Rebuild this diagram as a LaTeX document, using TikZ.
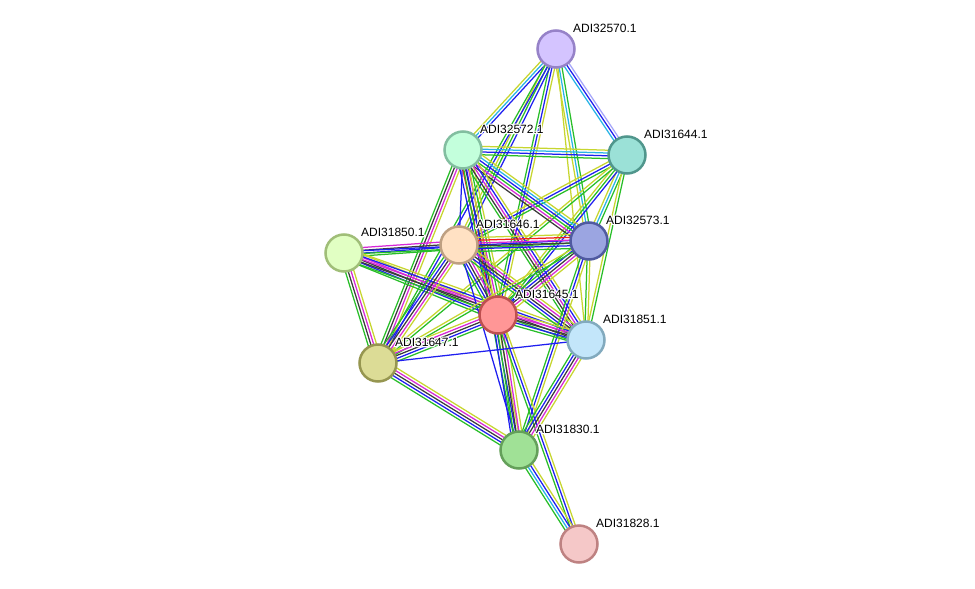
\documentclass[tikz,border=0pt]{standalone}
\usepackage{fontspec}
\setmainfont{Liberation Sans}
\usetikzlibrary{calc,backgrounds}
\definecolor{tm}{RGB}{199,214,47}
\definecolor{db}{RGB}{40,180,230}
\definecolor{ex}{RGB}{215,40,215}
\definecolor{nb}{RGB}{40,190,40}
\definecolor{co}{RGB}{30,30,240}
\definecolor{cx}{RGB}{60,60,60}
\definecolor{fu}{RGB}{240,30,30}
\definecolor{ho}{RGB}{165,165,250}
\newcommand\sedge[4]{%
  \foreach \c [count=\i] in {#4} {
    \pgfmathsetmacro\off{(\i-(#3+1)/2)*2.8}
    \draw[color=\c, line width=1.25pt] ($(#1)!\off pt!90:(#2)$) -- ($(#2)!\off pt!-90:(#1)$);
  }%
}
\newcommand\halo[1]{\makebox[0pt][l]{\special{pdf:literal direct q 1 Tr 2.4 w 1 j 1 1 1 RG}#1\special{pdf:literal direct Q}}#1}
\tikzset{
  prot/.style={circle, minimum size=37pt, inner sep=0pt, line width=2.5pt},
  lab/.style={anchor=west, font=\fontsize{12}{14}\selectfont, inner sep=0pt, text=black}
}
\newcommand\prot[6]{% name, x, y, fill, border, label
  \definecolor{f#1}{RGB}{#4}\definecolor{b#1}{RGB}{#5}
  \node[prot, fill=f#1, draw=b#1] (#1) at (#2,#3) {};
  \node[lab] (#1l) at (#2+17,#3-21) {\halo{#6}};
}
\begin{document}
\begin{tikzpicture}[x=1pt,y=-1pt]
\useasboundingbox (0,0) rectangle (975,589);
\prot{A}{556}{49}{212,196,255}{150,130,200}{ADI32570.1}
\prot{B}{627}{155}{155,225,215}{80,150,140}{ADI31644.1}
\prot{C}{463}{150}{195,255,220}{130,190,160}{ADI32572.1}
\prot{D}{344}{253}{225,255,195}{160,190,120}{ADI31850.1}
\prot{E}{459}{245}{255,225,195}{190,160,130}{ADI31646.1}
\prot{F}{589}{241}{155,165,225}{80,90,160}{ADI32573.1}
\prot{G}{498}{315}{255,150,150}{190,80,80}{ADI31645.1}
\prot{H}{586}{340}{195,230,250}{130,170,190}{ADI31851.1}
\prot{I}{378}{363}{220,220,150}{150,150,80}{ADI31647.1}
\prot{J}{519}{450}{160,225,150}{100,160,90}{ADI31830.1}
\prot{K}{579}{544}{245,200,200}{190,130,130}{ADI31828.1}
\begin{pgfonlayer}{background}
\fill[white] (0,0) rectangle (975,589);
\sedge{A}{C}{3}{tm,db,co}
\sedge{A}{B}{3}{db,co,ho}
\sedge{A}{F}{3}{tm,db,nb}
\sedge{A}{H}{1}{tm}
\sedge{A}{G}{3}{nb,co,tm}
\sedge{A}{E}{3}{tm,nb,co}
\sedge{A}{I}{2}{nb,co}
\sedge{B}{C}{4}{tm,db,co,nb}
\sedge{B}{F}{3}{tm,db,nb}
\sedge{B}{E}{3}{tm,co,nb}
\sedge{B}{G}{3}{tm,nb,co}
\sedge{B}{I}{2}{tm,nb}
\sedge{B}{H}{2}{tm,nb}
\sedge{C}{E}{1}{co}
\sedge{C}{I}{4}{nb,cx,ex,tm}
\sedge{C}{G}{6}{co,fu,cx,ex,nb,tm}
\sedge{C}{F}{6}{cx,ex,nb,co,db,tm}
\sedge{C}{H}{5}{nb,cx,ex,co,tm}
\sedge{C}{J}{3}{nb,co,tm}
\sedge{D}{E}{4}{nb,co,cx,ex}
\sedge{D}{F}{2}{nb,co}
\sedge{D}{G}{5}{nb,co,cx,ex,tm}
\sedge{D}{H}{5}{nb,cx,ex,co,tm}
\sedge{D}{I}{4}{nb,cx,ex,tm}
\sedge{E}{F}{6}{nb,co,cx,ex,fu,tm}
\sedge{E}{G}{5}{nb,co,cx,ex,tm}
\sedge{E}{H}{5}{nb,co,cx,ex,tm}
\sedge{E}{I}{5}{nb,co,cx,ex,tm}
\sedge{E}{J}{1}{co}
\sedge{F}{G}{5}{nb,co,cx,ex,tm}
\sedge{F}{H}{2}{nb,tm}
\sedge{F}{I}{2}{tm,nb}
\sedge{F}{J}{3}{nb,co,tm}
\sedge{G}{H}{5}{nb,co,cx,ex,tm}
\sedge{G}{I}{5}{tm,ex,cx,co,nb}
\sedge{G}{J}{5}{co,nb,cx,ex,tm}
\sedge{G}{K}{3}{nb,co,tm}
\sedge{H}{I}{1}{co}
\sedge{H}{J}{5}{nb,co,cx,ex,tm}
\sedge{I}{J}{5}{nb,co,cx,ex,tm}
\sedge{J}{K}{4}{nb,db,co,tm}
\end{pgfonlayer}
\end{tikzpicture}
\end{document}
